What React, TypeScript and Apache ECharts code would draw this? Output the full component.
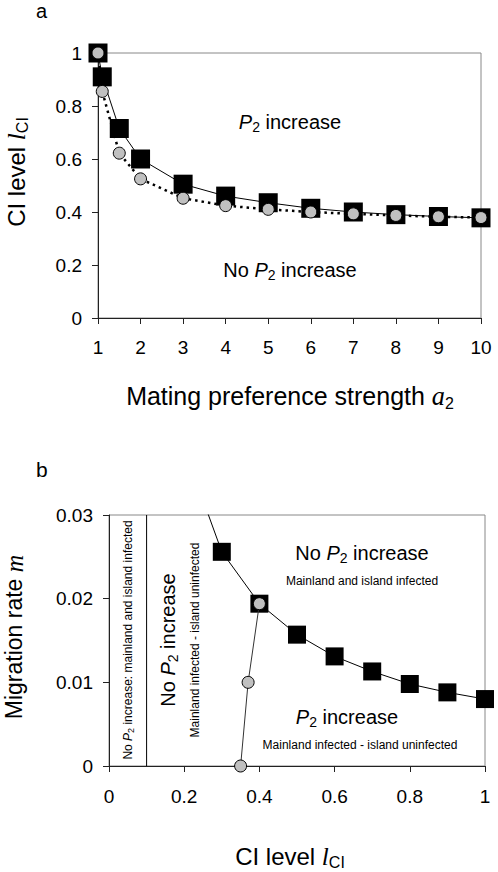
import React, { useEffect, useRef } from 'react';
import * as echarts from 'echarts';

// Panel a: mating preference strength vs CI level
const prefStrengthA = [1, 1.1, 1.5, 2, 3, 4, 5, 6, 7, 8, 9, 10];
const squaresCIA = [1.0, 0.91, 0.715, 0.6, 0.505, 0.46, 0.435, 0.414, 0.4, 0.39, 0.383, 0.378];
const circlesCIA = [1.0, 0.855, 0.622, 0.525, 0.452, 0.424, 0.41, 0.4, 0.393, 0.387, 0.382, 0.379];

// Panel b: CI level vs migration rate
const ciSquaresB = [0.2, 0.3, 0.4, 0.5, 0.6, 0.7, 0.8, 0.9, 1.0];
const migSquaresB = [0.038, 0.0256, 0.0194, 0.0157, 0.0131, 0.0113, 0.0098, 0.0088, 0.008];
const ciCirclesB = [0.35, 0.37, 0.4];
const migCirclesB = [0, 0.01, 0.0194];
const boundaryCIB = [0.1, 0.1];
const boundaryMigB = [0, 0.03];

const FONT = '"Liberation Sans", Arial, sans-serif';
const SERIF = '"Liberation Serif", "Times New Roman", serif';

const zip = (xs: number[], ys: number[]) => xs.map((x, i) => [x, ys[i]]);

function rich(F: number, subF: number) {
  return {
    n: { fontSize: F, fontFamily: FONT, lineHeight: F * 1.2, fill: '#000' },
    i: { fontSize: F, fontFamily: FONT, fontStyle: 'italic', lineHeight: F * 1.2, fill: '#000' },
    r: { fontSize: F * 1.05, fontFamily: SERIF, fontStyle: 'italic', lineHeight: F * 1.2, fill: '#000' },
    s: { fontSize: subF, fontFamily: FONT, lineHeight: subF * 0.75, verticalAlign: 'bottom', fill: '#000' },
  };
}

function txt(x: number, y: number, text: string, F: number, subF: number, rotate = false) {
  return {
    type: 'text',
    x,
    y,
    rotation: rotate ? Math.PI / 2 : 0,
    style: {
      text,
      align: 'center',
      verticalAlign: 'middle',
      fontSize: F,
      fontFamily: FONT,
      fill: '#000',
      rich: rich(F, subF),
    },
    z: 100,
  };
}

const axisCommon = {
  axisLine: { show: true, onZero: false, lineStyle: { color: '#222', width: 1 } },
  axisTick: { show: true, inside: false, length: 6, lineStyle: { color: '#222', width: 1 } },
  splitLine: { show: false },
};

export default function App() {
  const ref = useRef<HTMLDivElement>(null);
  useEffect(() => {
    if (!ref.current) return;
    const chart = echarts.init(ref.current, undefined, { renderer: 'svg' });
    const option: any = {
      animation: false,
      backgroundColor: '#fff',
      grid: [
        { left: 98, top: 53, width: 383, height: 265, show: true, borderColor: '#888', borderWidth: 1, backgroundColor: 'transparent' },
        { left: 109, top: 515, width: 376, height: 251, show: true, borderColor: '#888', borderWidth: 1, backgroundColor: 'transparent' },
      ],
      xAxis: [
        {
          gridIndex: 0, type: 'value', min: 1, max: 10, interval: 1, ...axisCommon,
          axisLabel: { margin: 20, fontSize: 19, color: '#000', fontFamily: FONT },
        },
        {
          gridIndex: 1, type: 'value', min: 0, max: 1, interval: 0.2, ...axisCommon,
          axisLabel: { margin: 21, fontSize: 19, color: '#000', fontFamily: FONT },
        },
      ],
      yAxis: [
        {
          gridIndex: 0, type: 'value', min: 0, max: 1, interval: 0.2, ...axisCommon,
          axisLabel: { margin: 16, fontSize: 19, color: '#000', fontFamily: FONT },
        },
        {
          gridIndex: 1, type: 'value', min: 0, max: 0.03, interval: 0.01, ...axisCommon,
          axisLabel: { margin: 16, fontSize: 19, color: '#000', fontFamily: FONT },
        },
      ],
      series: [
        {
          type: 'line', xAxisIndex: 0, yAxisIndex: 0,
          data: zip(prefStrengthA, squaresCIA),
          symbol: 'rect', symbolSize: 19, clip: false,
          itemStyle: { color: '#000', opacity: 1 },
          lineStyle: { color: '#000', width: 1 },
          z: 2,
        },
        {
          type: 'line', xAxisIndex: 0, yAxisIndex: 0,
          data: zip(prefStrengthA, circlesCIA),
          symbol: 'circle', symbolSize: 12, clip: false,
          itemStyle: { color: '#c0c0c0', borderColor: '#000', borderWidth: 1, opacity: 1 },
          lineStyle: { color: '#000', width: 2.5, type: [2.5, 4] },
          z: 3,
        },
        {
          type: 'line', xAxisIndex: 1, yAxisIndex: 1,
          data: zip(boundaryCIB, boundaryMigB),
          symbol: 'none',
          lineStyle: { color: '#000', width: 1 },
          z: 2,
        },
        {
          type: 'line', xAxisIndex: 1, yAxisIndex: 1,
          data: zip(ciSquaresB, migSquaresB),
          symbol: 'none', clip: true,
          lineStyle: { color: '#000', width: 1 },
          z: 2,
        },
        {
          type: 'scatter', xAxisIndex: 1, yAxisIndex: 1,
          data: zip(ciSquaresB, migSquaresB).slice(1),
          symbol: 'rect', symbolSize: 18, clip: false,
          itemStyle: { color: '#000', opacity: 1 },
          z: 3,
        },
        {
          type: 'line', xAxisIndex: 1, yAxisIndex: 1,
          data: zip(ciCirclesB, migCirclesB),
          symbol: 'circle', symbolSize: 12, clip: false,
          itemStyle: { color: '#c0c0c0', borderColor: '#000', borderWidth: 1, opacity: 1 },
          lineStyle: { color: '#333', width: 1 },
          z: 4,
        },
      ],
      graphic: [
        { type: 'text', x: 36, y: 10.5, style: { text: 'a', fontSize: 20, fontFamily: FONT, fill: '#000', align: 'left', verticalAlign: 'middle' } },
        { type: 'text', x: 36, y: 469, style: { text: 'b', fontSize: 21, fontFamily: FONT, fill: '#000', align: 'left', verticalAlign: 'middle' } },
        // panel a axis titles
        txt(16, 172, '{n|CI level }{r|l}{s|CI}', 24, 16, true),
        txt(290, 396, '{n|Mating preference strength }{r|a}{s|2}', 25, 16),
        // panel a regions
        txt(290, 122, '{i|P}{s|2}{n| increase}', 20, 14),
        txt(290, 270, '{n|No }{i|P}{s|2}{n| increase}', 20, 14),
        // panel b axis titles
        txt(14, 637, '{n|Migration rate }{r|m}', 23, 16, true),
        txt(290, 856, '{n|CI level }{r|l}{s|CI}', 24, 16),
        // panel b regions
        txt(362, 553, '{n|No }{i|P}{s|2}{n| increase}', 20, 14),
        txt(362, 581, '{n|Mainland and island infected}', 12, 9),
        txt(347, 717, '{i|P}{s|2}{n| increase}', 20, 14),
        txt(360, 745, '{n|Mainland infected - island uninfected}', 12, 9),
        txt(128, 640, '{n|No }{i|P}{s|2}{n| increase: mainland and island infected}', 12, 9, true),
        txt(168, 640, '{n|No }{i|P}{s|2}{n| increase}', 20, 14, true),
        txt(195, 640, '{n|Mainland infected - island uninfected}', 12, 9, true),
      ],
    };
    chart.setOption(option);
    return () => chart.dispose();
  }, []);
  return (
    <div
      ref={ref}
      style={{ position: 'absolute', left: 0, top: 0, width: 498, height: 872, background: '#fff' }}
    />
  );
}
